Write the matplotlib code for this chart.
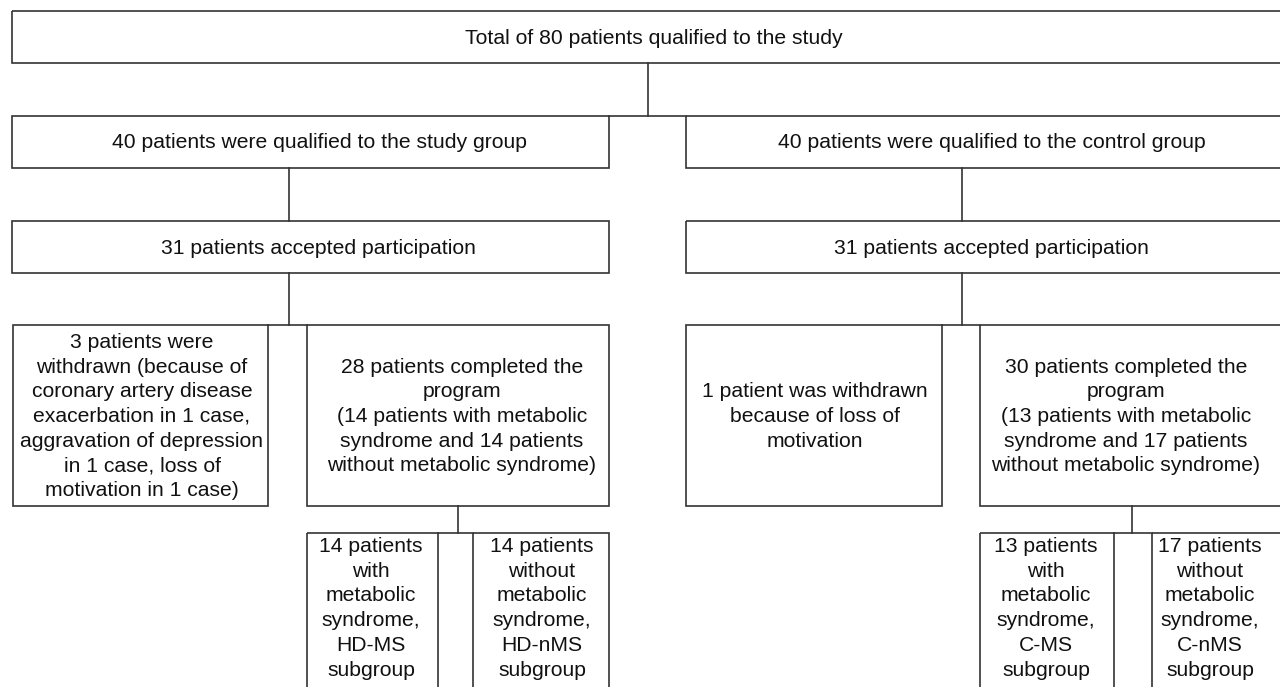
import matplotlib.pyplot as plt
from matplotlib.patches import Rectangle

plt.rcParams['font.family'] = ['Liberation Sans', 'DejaVu Sans']

# texts of the flowchart, level by level
top_text = "Total of 80 patients qualified to the study"
group_texts = ["40 patients were qualified to the study group",
               "40 patients were qualified to the control group"]
accepted_texts = ["31 patients accepted participation",
                  "31 patients accepted participation"]
outcome_texts = ["3 patients were\nwithdrawn (because of\ncoronary artery disease\nexacerbation in 1 case,\naggravation of depression\nin 1 case, loss of\nmotivation in 1 case)",
                 "28 patients completed the\nprogram\n(14 patients with metabolic\nsyndrome and 14 patients\nwithout metabolic syndrome)",
                 "1 patient was withdrawn\nbecause of loss of\nmotivation",
                 "30 patients completed the\nprogram\n(13 patients with metabolic\nsyndrome and 17 patients\nwithout metabolic syndrome)"]
subgroup_texts = ["14 patients\nwith\nmetabolic\nsyndrome,\nHD-MS\nsubgroup",
                  "14 patients\nwithout\nmetabolic\nsyndrome,\nHD-nMS\nsubgroup",
                  "13 patients\nwith\nmetabolic\nsyndrome,\nC-MS\nsubgroup",
                  "17 patients\nwithout\nmetabolic\nsyndrome,\nC-nMS\nsubgroup"]

# layout in pixels (x0, y0, x1, y1), text x centre
top_box = (12, 11, 1282, 63, 654)
group_boxes = [(12, 116, 609, 168, 320), (686, 116, 1282, 168, 992)]
accepted_boxes = [(12, 221, 609, 273, 318), (686, 221, 1282, 273, 991)]
outcome_boxes = [(13, 325, 268, 506, 142), (307, 325, 609, 506, 462),
                 (686, 325, 942, 506, 815), (980, 325, 1282, 506, 1126)]
sub_boxes = [(307, 533, 438, 700, 371), (473, 533, 609, 700, 542),
             (980, 533, 1114, 700, 1046), (1152, 533, 1290, 700, 1210)]

vlines = [(648, 63, 116), (289, 168, 221), (962, 168, 221),
          (289, 273, 325), (962, 273, 325), (458, 506, 533), (1132, 506, 533)]
hlines = [(609, 686, 116), (268, 307, 325), (942, 980, 325),
          (438, 473, 533), (1114, 1152, 533)]

lc = '#333333'
fs = 15.2
ls = 1.38

fig = plt.figure(figsize=(12.8, 6.87), dpi=100)
ax = fig.add_axes([0, 0, 1, 1])
ax.set_xlim(0, 1280)
ax.set_ylim(687, 0)
ax.axis('off')


def box(b, txt, top=False):
    x0, y0, x1, y1, tx = b
    ax.add_patch(Rectangle((x0, y0), x1 - x0, y1 - y0, fill=False,
                           edgecolor=lc, lw=1.2))
    if top:
        ax.text(tx, y0 + 4, txt, ha='center', va='top', fontsize=fs,
                linespacing=ls, color='#111111', multialignment='center')
    else:
        ax.text(tx, (y0 + y1) / 2 + 1, txt, ha='center', va='center',
                fontsize=fs, linespacing=ls, color='#111111',
                multialignment='center')


box(top_box, top_text)
for b, t in zip(group_boxes, group_texts):
    box(b, t)
for b, t in zip(accepted_boxes, accepted_texts):
    box(b, t)
for b, t in zip(outcome_boxes, outcome_texts):
    box(b, t)
for b, t in zip(sub_boxes, subgroup_texts):
    box(b, t, top=True)

for x, y0, y1 in vlines:
    ax.plot([x, x], [y0, y1], color=lc, lw=1.2)
for x0, x1, y in hlines:
    ax.plot([x0, x1], [y, y], color=lc, lw=1.2)

fig.savefig('out.png', dpi=100)
